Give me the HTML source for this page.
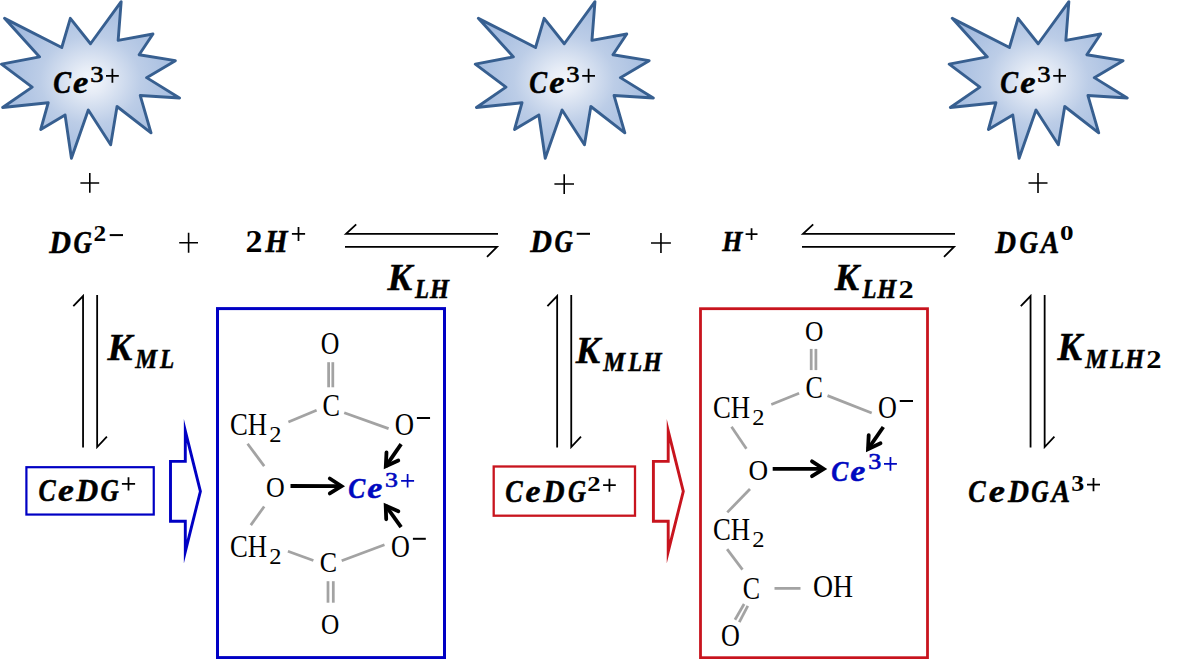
<!DOCTYPE html><html><head><meta charset="utf-8"><style>html,body{margin:0;padding:0;background:#fff;overflow:hidden}svg{display:block}text{font-family:"Liberation Serif",serif}.m{font-weight:bold;font-style:italic}.b{font-weight:bold}.r{font-weight:normal}</style></head><body><svg width="1182" height="659" viewBox="0 0 1182 659"><defs><radialGradient id="g" cx="50%" cy="50%" r="70.7%"><stop offset="0" stop-color="#f3f6fb"/><stop offset="0.12" stop-color="#e6ecf6"/><stop offset="0.4" stop-color="#bccde7"/><stop offset="1" stop-color="#8eacd8"/></radialGradient></defs><path d="M90.50,43.75 L121.17,1.70 L118.15,40.31 L152.96,34.01 L139.14,54.73 L175.35,60.69 L146.59,77.64 L179.50,98.05 L140.25,95.53 L151.03,132.89 L117.04,106.51 L110.67,144.79 L88.29,109.98 L71.42,158.30 L65.08,115.00 L40.74,129.42 L48.20,102.74 L2.61,107.46 L32.17,87.07 L1.50,64.16 L39.63,56.92 L4.55,18.34 L61.76,47.52 L70.33,18.34 Z" fill="url(#g)" stroke="#375f90" stroke-width="2.9" stroke-linejoin="round"/><path d="M564.30,43.75 L594.97,1.70 L591.95,40.31 L626.76,34.01 L612.94,54.73 L649.15,60.69 L620.39,77.64 L653.30,98.05 L614.05,95.53 L624.83,132.89 L590.84,106.51 L584.47,144.79 L562.09,109.98 L545.22,158.30 L538.88,115.00 L514.54,129.42 L522.00,102.74 L476.41,107.46 L505.97,87.07 L475.30,64.16 L513.43,56.92 L478.35,18.34 L535.56,47.52 L544.13,18.34 Z" fill="url(#g)" stroke="#375f90" stroke-width="2.9" stroke-linejoin="round"/><path d="M1038.20,43.75 L1068.87,1.70 L1065.85,40.31 L1100.66,34.01 L1086.84,54.73 L1123.05,60.69 L1094.29,77.64 L1127.20,98.05 L1087.95,95.53 L1098.73,132.89 L1064.74,106.51 L1058.37,144.79 L1035.99,109.98 L1019.12,158.30 L1012.78,115.00 L988.44,129.42 L995.90,102.74 L950.31,107.46 L979.87,87.07 L949.20,64.16 L987.33,56.92 L952.25,18.34 L1009.46,47.52 L1018.03,18.34 Z" fill="url(#g)" stroke="#375f90" stroke-width="2.9" stroke-linejoin="round"/><path d="M106.00 75.75H118.80M112.40 68.70V82.80" stroke="#000" stroke-width="1.75" fill="none"/><path d="M582.20 75.75H595.00M588.60 68.70V82.80" stroke="#000" stroke-width="1.75" fill="none"/><path d="M1053.20 75.75H1066.00M1059.60 68.70V82.80" stroke="#000" stroke-width="1.75" fill="none"/><path d="M80.40 182.95H99.20M89.80 173.10V192.80" stroke="#000" stroke-width="1.60" fill="none"/><path d="M554.40 184.05H574.00M564.20 174.20V193.90" stroke="#000" stroke-width="1.60" fill="none"/><path d="M1028.50 183.00H1047.50M1038.00 173.00V193.00" stroke="#000" stroke-width="1.60" fill="none"/><path d="M179.20 242.80H198.00M188.60 232.80V252.80" stroke="#000" stroke-width="1.60" fill="none"/><path d="M651.00 242.95H670.90M660.95 233.00V252.90" stroke="#000" stroke-width="1.60" fill="none"/><path d="M109.70 235.10H123.00" stroke="#000" stroke-width="2.00"/><path d="M291.90 233.95H305.10M298.50 227.00V240.90" stroke="#000" stroke-width="1.75" fill="none"/><path d="M576.70 233.80H590.00" stroke="#000" stroke-width="2.00"/><path d="M745.60 234.10H757.50M751.55 228.20V240.00" stroke="#000" stroke-width="1.75" fill="none"/><path d="M121.90 483.85H135.10M128.50 477.30V490.40" stroke="#000" stroke-width="1.75" fill="none"/><path d="M603.10 485.20H615.80M609.45 478.70V491.70" stroke="#000" stroke-width="1.75" fill="none"/><path d="M1087.00 484.65H1100.00M1093.50 478.00V491.30" stroke="#000" stroke-width="1.75" fill="none"/><path d="M401.10 480.80H414.10M407.60 474.00V487.60" stroke="#0008c0" stroke-width="1.75" fill="none"/><path d="M884.00 463.95H896.90M890.45 457.10V470.80" stroke="#0008c0" stroke-width="1.75" fill="none"/><path d="M416.90 418.00H430.05" stroke="#000" stroke-width="2.00"/><path d="M412.90 538.80H425.80" stroke="#000" stroke-width="2.00"/><path d="M899.75 401.00H913.00" stroke="#000" stroke-width="2.00"/><text class="m" font-size="31.19" fill="#000" stroke="#000" stroke-width="0.50" transform="translate(53.16 93.39) scale(0.8565 1)">C</text><text class="m" font-size="31.19" fill="#000" stroke="#000" stroke-width="0.50" transform="translate(73.04 93.39) scale(1.1037 1)">e</text><text class="r" font-size="22.54" fill="#000" stroke="#000" stroke-width="0.60" transform="translate(90.17 81.67) scale(1.1796 1)">3</text><text class="m" font-size="31.19" fill="#000" stroke="#000" stroke-width="0.50" transform="translate(529.36 93.39) scale(0.8565 1)">C</text><text class="m" font-size="31.19" fill="#000" stroke="#000" stroke-width="0.50" transform="translate(549.24 93.39) scale(1.1037 1)">e</text><text class="r" font-size="22.54" fill="#000" stroke="#000" stroke-width="0.60" transform="translate(566.37 81.67) scale(1.1796 1)">3</text><text class="m" font-size="31.19" fill="#000" stroke="#000" stroke-width="0.50" transform="translate(1000.36 93.39) scale(0.8565 1)">C</text><text class="m" font-size="31.19" fill="#000" stroke="#000" stroke-width="0.50" transform="translate(1020.24 93.39) scale(1.1037 1)">e</text><text class="r" font-size="22.54" fill="#000" stroke="#000" stroke-width="0.60" transform="translate(1037.37 81.67) scale(1.1796 1)">3</text><text class="m" font-size="31.94" fill="#000" stroke="#000" stroke-width="0.50" transform="translate(49.15 252.58) scale(0.9415 1)">D</text><text class="m" font-size="31.94" fill="#000" stroke="#000" stroke-width="0.50" transform="translate(73.61 252.58) scale(0.7978 1)">G</text><text class="b" font-size="22.42" fill="#000" transform="translate(93.49 240.90) scale(1.1283 1)">2</text><text class="b" font-size="31.82" fill="#000" transform="translate(245.44 251.90) scale(1.0678 1)">2</text><text class="m" font-size="31.76" fill="#000" stroke="#000" stroke-width="0.50" transform="translate(265.14 251.90) scale(0.9058 1)">H</text><text class="m" font-size="31.49" fill="#000" stroke="#000" stroke-width="0.50" transform="translate(530.25 251.59) scale(0.9549 1)">D</text><text class="m" font-size="31.49" fill="#000" stroke="#000" stroke-width="0.50" transform="translate(554.61 251.59) scale(0.8091 1)">G</text><text class="m" font-size="29.01" fill="#000" stroke="#000" stroke-width="0.50" transform="translate(722.13 250.80) scale(0.8938 1)">H</text><text class="m" font-size="32.09" fill="#000" stroke="#000" stroke-width="0.50" transform="translate(995.14 252.58) scale(0.8973 1)">D</text><text class="m" font-size="32.09" fill="#000" stroke="#000" stroke-width="0.50" transform="translate(1019.60 252.58) scale(0.7987 1)">G</text><text class="m" font-size="32.09" fill="#000" stroke="#000" stroke-width="0.50" transform="translate(1040.68 252.58) scale(0.8587 1)">A</text><text class="b" font-size="21.04" fill="#000" transform="translate(1060.11 240.49) scale(1.2902 1)">0</text><text class="m" font-size="38.77" fill="#000" stroke="#000" stroke-width="0.50" transform="translate(387.39 290.00) scale(0.9570 1)">K</text><text class="m" font-size="27.48" fill="#000" stroke="#000" stroke-width="0.50" transform="translate(415.01 297.90) scale(0.8299 1)">L</text><text class="m" font-size="27.48" fill="#000" stroke="#000" stroke-width="0.50" transform="translate(430.12 297.90) scale(0.8895 1)">H</text><text class="m" font-size="38.31" fill="#000" stroke="#000" stroke-width="0.50" transform="translate(834.68 289.90) scale(0.9506 1)">K</text><text class="m" font-size="27.02" fill="#000" stroke="#000" stroke-width="0.50" transform="translate(862.41 297.70) scale(0.8440 1)">L</text><text class="m" font-size="27.02" fill="#000" stroke="#000" stroke-width="0.50" transform="translate(877.22 297.70) scale(0.9046 1)">H</text><text class="b" font-size="26.21" fill="#000" transform="translate(898.39 297.70) scale(1.1583 1)">2</text><text class="m" font-size="38.77" fill="#000" stroke="#000" stroke-width="0.50" transform="translate(107.39 360.10) scale(0.9606 1)">K</text><text class="m" font-size="27.54" fill="#000" stroke="#000" stroke-width="0.50" transform="translate(135.27 367.90) scale(0.8942 1)">M</text><text class="m" font-size="27.54" fill="#000" stroke="#000" stroke-width="0.50" transform="translate(160.12 367.90) scale(0.8409 1)">L</text><text class="m" font-size="38.46" fill="#000" stroke="#000" stroke-width="0.50" transform="translate(575.68 362.90) scale(0.9503 1)">K</text><text class="m" font-size="27.79" fill="#000" stroke="#000" stroke-width="0.50" transform="translate(603.37 371.10) scale(0.8862 1)">M</text><text class="m" font-size="27.79" fill="#000" stroke="#000" stroke-width="0.50" transform="translate(628.21 371.10) scale(0.8145 1)">L</text><text class="m" font-size="27.79" fill="#000" stroke="#000" stroke-width="0.50" transform="translate(643.32 371.10) scale(0.8531 1)">H</text><text class="m" font-size="39.08" fill="#000" stroke="#000" stroke-width="0.50" transform="translate(1057.48 360.00) scale(0.9424 1)">K</text><text class="m" font-size="26.56" fill="#000" stroke="#000" stroke-width="0.50" transform="translate(1085.37 367.80) scale(0.9269 1)">M</text><text class="m" font-size="26.56" fill="#000" stroke="#000" stroke-width="0.50" transform="translate(1110.21 367.80) scale(0.8519 1)">L</text><text class="m" font-size="26.56" fill="#000" stroke="#000" stroke-width="0.50" transform="translate(1125.32 367.80) scale(0.9155 1)">H</text><text class="b" font-size="26.06" fill="#000" transform="translate(1146.28 367.60) scale(1.1743 1)">2</text><text class="m" font-size="30.90" fill="#000" stroke="#000" stroke-width="0.50" transform="translate(38.50 501.29) scale(0.8345 1)">C</text><text class="m" font-size="30.90" fill="#000" stroke="#000" stroke-width="0.50" transform="translate(58.11 501.29) scale(1.1554 1)">e</text><text class="m" font-size="30.90" fill="#000" stroke="#000" stroke-width="0.50" transform="translate(76.25 501.29) scale(0.9825 1)">D</text><text class="m" font-size="30.90" fill="#000" stroke="#000" stroke-width="0.50" transform="translate(100.41 501.29) scale(0.8200 1)">G</text><text class="m" font-size="31.34" fill="#000" stroke="#000" stroke-width="0.50" transform="translate(505.19 502.49) scale(0.8325 1)">C</text><text class="m" font-size="31.34" fill="#000" stroke="#000" stroke-width="0.50" transform="translate(525.46 502.49) scale(1.0743 1)">e</text><text class="m" font-size="31.34" fill="#000" stroke="#000" stroke-width="0.50" transform="translate(543.55 502.49) scale(0.9323 1)">D</text><text class="m" font-size="31.34" fill="#000" stroke="#000" stroke-width="0.50" transform="translate(568.03 502.49) scale(0.7941 1)">G</text><text class="b" font-size="21.67" fill="#000" transform="translate(587.23 491.20) scale(1.2345 1)">2</text><text class="m" font-size="32.39" fill="#000" stroke="#000" stroke-width="0.50" transform="translate(968.29 502.38) scale(0.8057 1)">C</text><text class="m" font-size="32.39" fill="#000" stroke="#000" stroke-width="0.50" transform="translate(988.79 502.38) scale(1.1256 1)">e</text><text class="m" font-size="32.39" fill="#000" stroke="#000" stroke-width="0.50" transform="translate(1007.95 502.38) scale(0.8978 1)">D</text><text class="m" font-size="32.39" fill="#000" stroke="#000" stroke-width="0.50" transform="translate(1031.15 502.38) scale(0.7456 1)">G</text><text class="m" font-size="32.39" fill="#000" stroke="#000" stroke-width="0.50" transform="translate(1051.59 502.38) scale(0.8599 1)">A</text><text class="b" font-size="22.84" fill="#000" transform="translate(1071.16 491.37) scale(1.1334 1)">3</text><text class="m" font-size="30.30" fill="#0008c0" stroke="#0008c0" stroke-width="0.50" transform="translate(348.31 498.30) scale(0.8406 1)">C</text><text class="m" font-size="30.30" fill="#0008c0" stroke="#0008c0" stroke-width="0.50" transform="translate(367.35 498.30) scale(1.1197 1)">e</text><text class="r" font-size="21.94" fill="#0008c0" stroke="#0008c0" stroke-width="0.60" transform="translate(385.11 486.78) scale(1.1784 1)">3</text><text class="m" font-size="30.45" fill="#0008c0" stroke="#0008c0" stroke-width="0.50" transform="translate(831.31 481.40) scale(0.8365 1)">C</text><text class="m" font-size="30.45" fill="#0008c0" stroke="#0008c0" stroke-width="0.50" transform="translate(850.35 481.40) scale(1.1142 1)">e</text><text class="r" font-size="22.09" fill="#0008c0" stroke="#0008c0" stroke-width="0.60" transform="translate(868.20 469.48) scale(1.1814 1)">3</text><text class="r" font-size="30.90" fill="#000" transform="translate(320.87 353.69) scale(0.8345 1)">O</text><text class="r" font-size="31.34" fill="#000" transform="translate(322.45 415.59) scale(0.8340 1)">C</text><text class="r" font-size="31.64" fill="#000" transform="translate(229.93 434.78) scale(0.8452 1)">CH</text><text class="r" font-size="22.73" fill="#000" transform="translate(269.30 441.90) scale(1.0780 1)">2</text><text class="r" font-size="31.19" fill="#000" transform="translate(394.83 435.39) scale(0.8565 1)">O</text><text class="r" font-size="29.40" fill="#000" transform="translate(266.06 497.21) scale(0.8821 1)">O</text><text class="r" font-size="31.64" fill="#000" transform="translate(229.93 556.98) scale(0.8452 1)">CH</text><text class="r" font-size="22.73" fill="#000" transform="translate(269.30 564.10) scale(1.0780 1)">2</text><text class="r" font-size="31.34" fill="#000" transform="translate(390.96 556.59) scale(0.8325 1)">O</text><text class="r" font-size="29.85" fill="#000" transform="translate(319.76 572.40) scale(0.8698 1)">C</text><text class="r" font-size="29.85" fill="#000" transform="translate(320.89 633.60) scale(0.8480 1)">O</text><text class="r" font-size="30.15" fill="#000" transform="translate(804.88 340.50) scale(0.8448 1)">O</text><text class="r" font-size="31.04" fill="#000" transform="translate(805.45 398.49) scale(0.8420 1)">C</text><text class="r" font-size="31.64" fill="#000" transform="translate(712.93 417.78) scale(0.8452 1)">CH</text><text class="r" font-size="22.73" fill="#000" transform="translate(752.30 424.90) scale(1.0780 1)">2</text><text class="r" font-size="31.19" fill="#000" transform="translate(878.06 418.49) scale(0.8365 1)">O</text><text class="r" font-size="29.40" fill="#000" transform="translate(748.51 480.21) scale(0.9247 1)">O</text><text class="r" font-size="31.64" fill="#000" transform="translate(712.93 539.78) scale(0.8452 1)">CH</text><text class="r" font-size="22.73" fill="#000" transform="translate(752.30 546.90) scale(1.0780 1)">2</text><text class="r" font-size="31.04" fill="#000" transform="translate(742.86 598.79) scale(0.8364 1)">C</text><text class="r" font-size="31.34" fill="#000" transform="translate(812.89 596.59) scale(0.8864 1)">OH</text><text class="r" font-size="30.75" fill="#000" transform="translate(720.96 646.39) scale(0.8487 1)">O</text><path d="M498.0 233.8H346.0L356.2 224.3M345.0 246.9H497.0L487.0 256.9" stroke="#000" stroke-width="1.8" fill="none" stroke-linejoin="miter" stroke-miterlimit="10"/><path d="M955.0 233.8H803.0L813.2 224.3M802.0 246.9H954.0L944.0 256.9" stroke="#000" stroke-width="1.8" fill="none" stroke-linejoin="miter" stroke-miterlimit="10"/><path d="M83.05 447.6V296.0L73.30 306.1M97.15 295.0V447.0L106.90 436.7" stroke="#000" stroke-width="1.8" fill="none" stroke-linejoin="miter" stroke-miterlimit="10"/><path d="M557.15 447.6V296.0L547.40 306.1M571.25 295.0V447.0L581.00 436.7" stroke="#000" stroke-width="1.8" fill="none" stroke-linejoin="miter" stroke-miterlimit="10"/><path d="M1030.55 447.6V296.0L1020.80 306.1M1044.65 295.0V447.0L1054.40 436.7" stroke="#000" stroke-width="1.8" fill="none" stroke-linejoin="miter" stroke-miterlimit="10"/><rect x="26.4" y="467.2" width="127.35" height="47.35" fill="none" stroke="#0000c4" stroke-width="2.2"/><rect x="493.7" y="466.5" width="141.3" height="49.2" fill="none" stroke="#c8141e" stroke-width="2.3"/><path d="M200.40 491.3L185.30 430.9V461.35H170.50V521.25H185.30V551.7L200.40 491.3" fill="none" stroke="#0000c4" stroke-width="2.9" stroke-linejoin="miter" stroke-miterlimit="12" stroke-linecap="round"/><path d="M683.30 491.3L668.20 430.9V461.35H653.40V521.25H668.20V551.7L683.30 491.3" fill="none" stroke="#c8141e" stroke-width="2.9" stroke-linejoin="miter" stroke-miterlimit="12" stroke-linecap="round"/><rect x="217.5" y="308.6" width="227" height="349" fill="none" stroke="#0000c4" stroke-width="3"/><rect x="700.5" y="308.7" width="227" height="349" fill="none" stroke="#c8141e" stroke-width="2.8"/><path d="M328.60 362.20L328.60 387.30" stroke="#a3a3a3" stroke-width="2.75"/><path d="M332.80 362.20L332.80 387.30" stroke="#a3a3a3" stroke-width="2.75"/><path d="M316.60 410.30L288.40 421.90" stroke="#a3a3a3" stroke-width="2.75"/><path d="M344.20 412.70L388.60 428.60" stroke="#a3a3a3" stroke-width="2.75"/><path d="M247.60 443.80L264.20 466.10" stroke="#a3a3a3" stroke-width="2.75"/><path d="M264.20 506.50L250.80 525.10" stroke="#a3a3a3" stroke-width="2.75"/><path d="M287.90 551.20L313.40 560.50" stroke="#a3a3a3" stroke-width="2.75"/><path d="M341.70 560.70L384.50 544.70" stroke="#a3a3a3" stroke-width="2.75"/><path d="M328.00 581.20L328.00 602.70" stroke="#a3a3a3" stroke-width="2.75"/><path d="M333.30 581.20L333.30 602.70" stroke="#a3a3a3" stroke-width="2.75"/><path d="M811.20 348.90L811.20 370.10" stroke="#a3a3a3" stroke-width="2.75"/><path d="M815.90 348.90L815.90 370.10" stroke="#a3a3a3" stroke-width="2.75"/><path d="M771.30 404.50L799.10 393.20" stroke="#a3a3a3" stroke-width="2.75"/><path d="M827.50 395.60L871.70 413.00" stroke="#a3a3a3" stroke-width="2.75"/><path d="M731.50 426.80L746.40 448.70" stroke="#a3a3a3" stroke-width="2.75"/><path d="M750.00 489.00L727.30 512.40" stroke="#a3a3a3" stroke-width="2.75"/><path d="M727.10 549.10L742.50 569.60" stroke="#a3a3a3" stroke-width="2.75"/><path d="M774.50 588.40L800.50 588.40" stroke="#a3a3a3" stroke-width="2.75"/><path d="M744.10 604.00L735.00 619.70" stroke="#a3a3a3" stroke-width="2.75"/><path d="M747.80 605.80L739.30 622.20" stroke="#a3a3a3" stroke-width="2.75"/><path d="M290.50 486.00L341.50 486.10" stroke="#000" stroke-width="3.80" fill="none"/><path d="M329.80 478.50L341.50 486.10L329.80 493.40" stroke="#000" stroke-width="3.80" fill="none" stroke-linecap="round" stroke-linejoin="miter" stroke-miterlimit="10"/><path d="M401.10 444.20L385.80 466.30" stroke="#000" stroke-width="3.80" fill="none"/><path d="M386.50 452.30L385.80 466.30L398.30 460.50" stroke="#000" stroke-width="3.80" fill="none" stroke-linecap="round" stroke-linejoin="miter" stroke-miterlimit="10"/><path d="M401.10 527.20L385.70 505.60" stroke="#000" stroke-width="3.80" fill="none"/><path d="M386.20 519.30L385.70 505.60L398.30 511.20" stroke="#000" stroke-width="3.80" fill="none" stroke-linecap="round" stroke-linejoin="miter" stroke-miterlimit="10"/><path d="M772.70 468.80L823.70 468.90" stroke="#000" stroke-width="3.80" fill="none"/><path d="M812.00 461.30L823.70 468.90L812.00 476.20" stroke="#000" stroke-width="3.80" fill="none" stroke-linecap="round" stroke-linejoin="miter" stroke-miterlimit="10"/><path d="M883.30 427.00L868.00 449.10" stroke="#000" stroke-width="3.80" fill="none"/><path d="M868.70 435.10L868.00 449.10L880.50 443.30" stroke="#000" stroke-width="3.80" fill="none" stroke-linecap="round" stroke-linejoin="miter" stroke-miterlimit="10"/></svg></body></html>
